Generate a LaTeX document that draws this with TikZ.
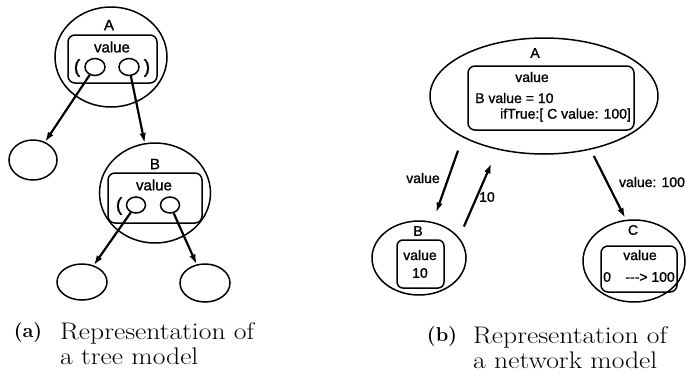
\documentclass[tikz,border=0pt]{standalone}
\usepackage{fontspec}
\usepackage{graphicx}
\newfontfamily\hv{Liberation Sans}[FakeBold=1.2]
\newcommand{\capw}[1]{\scalebox{1.15}[1]{#1}}
\usetikzlibrary{shapes.geometric,arrows.meta}
\begin{document}
\begin{tikzpicture}[x=1pt,y=-1pt,
  oval/.style={draw,ellipse,line width=1.5pt,inner sep=0pt},
  box/.style={draw,rounded corners=7pt,line width=1.5pt,inner sep=0pt},
  lbl/.style={font=\hv\fontsize{14}{16}\selectfont,inner sep=0pt},
  big/.style={font=\hv\fontsize{15}{17}\selectfont,inner sep=0pt},
  par/.style={font=\hv\fontsize{19}{20}\selectfont,inner sep=0pt},
  arr/.style={line width=2.2pt,-{Latex[length=10pt,width=6.5pt]}},
  captext/.style={font=\fontsize{24}{26}\selectfont,inner sep=0pt},
  tag/.style={font=\fontsize{20}{20}\selectfont\bfseries,inner sep=0pt}]
\useasboundingbox (0,0) rectangle (686,381);
% ---------- (a) tree model ----------
\node[oval,minimum width=112pt,minimum height=100pt] (A) at (111,57) {};
\node[big] (Alab) at (109,25) {A};
\node[box,minimum width=89pt,minimum height=48pt] (Abox) at (112.5,59) {};
\node[big] (Aval) at (112,47) {value};
\node[oval,minimum width=20pt,minimum height=17pt] (a1) at (95,67) {};
\node[oval,minimum width=20pt,minimum height=17pt] (a2) at (129,67) {};
\node[par] (ap1) at (77,68) {(};
\node[par] (ap2) at (147,68) {)};
\node[oval,minimum width=48pt,minimum height=40pt] (L1) at (33,160) {};
\node[oval,minimum width=111pt,minimum height=100pt] (B) at (155,193) {};
\node[big] (Blab) at (155,164) {B};
\node[box,minimum width=94pt,minimum height=50pt] (Bbox) at (155,198) {};
\node[big] (Bval) at (154,185) {value};
\node[oval,minimum width=19pt,minimum height=16pt] (b1) at (136,205) {};
\node[oval,minimum width=19pt,minimum height=16pt] (b2) at (170,205) {};
\node[par] (bp1) at (119,206) {(};
\node[oval,minimum width=50pt,minimum height=36pt] (BL) at (82,282) {};
\node[oval,minimum width=50pt,minimum height=38pt] (BR) at (205,283) {};
\draw[arr] (a1) -- (L1);
\draw[arr] (a2) -- (B);
\draw[arr] (b1) -- (BL);
\draw[arr] (b2) -- (BR);
% ---------- (b) network model ----------
\node[oval,minimum width=228pt,minimum height=116pt] (A2) at (544,96) {};
\node[lbl] (A2lab) at (535,53) {A};
\node[box,minimum width=166pt,minimum height=64pt] (A2box) at (551,98) {};
\node[lbl] (A2val) at (532,77) {value};
\node[lbl,anchor=west] (A2l1) at (475,98) {B value\hspace{4pt}= 10};
\node[lbl,anchor=west] (A2l2) at (500,115) {ifTrue:[ C value: 100]};
\node[oval,minimum width=94pt,minimum height=74pt] (B2) at (419,258) {};
\node[lbl] (B2lab) at (418,231) {B};
\node[box,rounded corners=6pt,minimum width=47pt,minimum height=48pt] (B2box) at (420.5,264) {};
\node[lbl] (B2val) at (420,255) {value};
\node[lbl] (B2num) at (420,273) {10};
\node[oval,minimum width=102pt,minimum height=82pt] (C2) at (634,261) {};
\node[lbl] (C2lab) at (633,230) {C};
\node[box,minimum width=76pt,minimum height=46pt] (C2box) at (639,269) {};
\node[lbl] (C2val) at (640,255) {value};
\node[lbl,anchor=west] (C2a) at (603,277) {0};
\node[lbl,anchor=east] (C2b) at (675,277) {-{}-{}-> 100};
\draw[arr,shorten <=14pt,shorten >=10pt] (A2.207.4) -- (B2.69.9);
\draw[arr,shorten <=12pt,shorten >=15pt] (B2.27) -- (A2.229);
\draw[arr,shorten <=7pt,shorten >=2pt] (A2.311) -- (C2.101);
\node[lbl] (lv) at (423,178) {value};
\node[lbl] (l10) at (487,197) {10};
\node[lbl] (l100) at (652,182) {value: 100};
% ---------- captions ----------
\node[tag] (capa) at (28,333) {(a)};
\node[captext,anchor=base west] (capa1) at (60,339) {\capw{Representation of}};
\node[captext,anchor=base west] (capa2) at (60,364) {\capw{a tree model}};
\node[tag] (capb) at (442,337) {(b)};
\node[captext,anchor=base west] (capb1) at (473,343) {\capw{Representation of}};
\node[captext,anchor=base west] (capb2) at (473,368) {\capw{a network model}};
\end{tikzpicture}
\end{document}
